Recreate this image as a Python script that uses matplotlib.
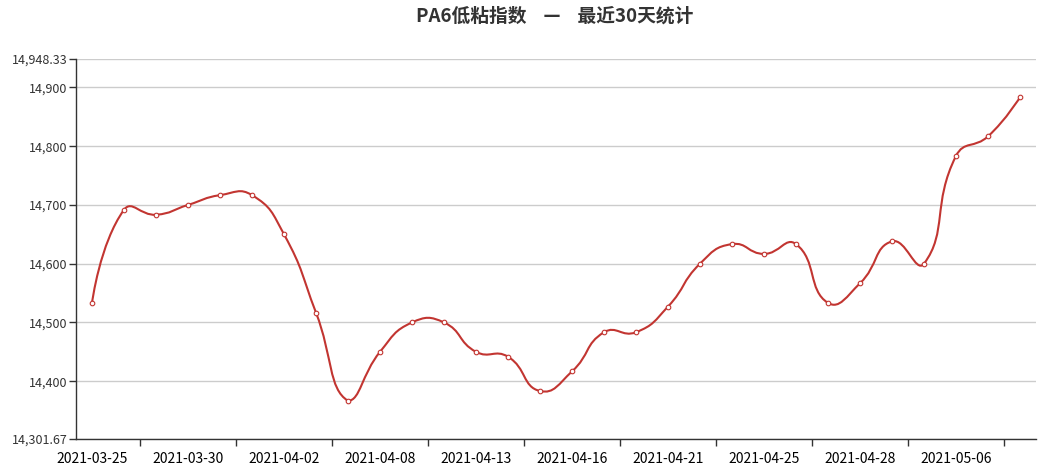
import numpy as np
import matplotlib
matplotlib.use("Agg")
import matplotlib.pyplot as plt
from matplotlib.path import Path
from matplotlib.patches import PathPatch

plt.rcParams['font.family'] = ['Noto Sans CJK SC', 'DejaVu Sans']

# 数据
dates = ["2021-03-25", "2021-03-26", "2021-03-29", "2021-03-30", "2021-03-31",
         "2021-04-01", "2021-04-02", "2021-04-06", "2021-04-07", "2021-04-08",
         "2021-04-09", "2021-04-12", "2021-04-13", "2021-04-14", "2021-04-15",
         "2021-04-16", "2021-04-19", "2021-04-20", "2021-04-21", "2021-04-22",
         "2021-04-23", "2021-04-25", "2021-04-26", "2021-04-27", "2021-04-28",
         "2021-04-29", "2021-04-30", "2021-05-06", "2021-05-07", "2021-05-08"]
values = [14533.33, 14691.67, 14683.33, 14700.00, 14716.67,
          14716.67, 14650.00, 14516.67, 14366.67, 14450.00,
          14500.00, 14500.00, 14450.00, 14441.67, 14383.33,
          14416.67, 14483.33, 14483.33, 14527.00, 14600.00,
          14633.33, 14616.67, 14633.33, 14533.33, 14566.67,
          14638.00, 14600.00, 14783.33, 14816.67, 14883.33]
title = "PA6低粘指数    —    最近30天统计"
line_color = "#c23531"


####################################
# echarts4風のなめらかな曲線 (表示座標で計算)
####################################
def smooth_path(pts, smooth=0.5):
    lo = pts.min(axis=0)
    hi = pts.max(axis=0)
    verts = [pts[0]]
    codes = [Path.MOVETO]
    cp0 = pts[0].copy()
    n = len(pts)
    for i in range(1, n):
        p = pts[i]
        prev = pts[i - 1]
        if i == n - 1:
            cp1 = p.copy()
            ratio = 0.5
            v = np.zeros(2)
        else:
            nxt = pts[i + 1]
            v = nxt - prev
            lp = np.hypot(*(p - prev))
            ln = np.hypot(*(nxt - p))
            ratio = ln / (ln + lp)
            cp1 = p - v * smooth * (1 - ratio)
        verts += [np.clip(cp0, lo, hi), np.clip(cp1, lo, hi), p]
        codes += [Path.CURVE4] * 3
        cp0 = p + v * smooth * ratio
    return np.array(verts), codes


fig = plt.figure(figsize=(10.42, 4.65), dpi=100)
ax = fig.add_axes([76 / 1042, 26 / 465, 960 / 1042, 380 / 465])

x = np.arange(len(values))
ymin = min(values) - 65
ymax = max(values) + 65
ax.set_xlim(-0.5, len(values) - 0.5)
ax.set_ylim(ymin, ymax)

disp = ax.transData.transform(np.column_stack([x, values]))
verts, codes = smooth_path(disp)
verts = ax.transData.inverted().transform(verts)
ax.add_patch(PathPatch(Path(verts, codes), fill=False, ec=line_color, lw=1.5, zorder=2))
ax.plot(x, values, 'o', ms=3.3, mfc='white', mec=line_color, mew=0.8, zorder=3)

# y軸
yt = [ymin, 14400, 14500, 14600, 14700, 14800, 14900, ymax]
ylab = ["{:,.2f}".format(ymin)] + ["{:,.0f}".format(v) for v in yt[1:-1]] + ["{:,.2f}".format(ymax)]
ax.set_yticks(yt, labels=ylab)
ax.yaxis.grid(True, color='#cccccc', lw=1)
ax.set_axisbelow(True)

# x軸
ax.set_xticks(np.arange(1.5, len(values) - 1, 3))
ax.set_xticklabels([])
ax.set_xticks(x[::3], labels=dates[::3], minor=True)
ax.tick_params(axis='x', which='minor', length=0, pad=9)
ax.tick_params(axis='x', which='major', length=5, width=1, color='#333333')
ax.tick_params(axis='y', length=5, width=1, color='#333333', pad=1)
ax.tick_params(labelsize=9, labelcolor='#333333')

for s in ['top', 'right']:
    ax.spines[s].set_visible(False)
for s in ['left', 'bottom']:
    ax.spines[s].set_color('#333333')
    ax.spines[s].set_linewidth(1)

fig.text(555 / 1042, 1 - 16 / 465, title, ha='center', va='center',
         fontsize=13.5, fontweight='bold', color='#333333')

plt.savefig("out.png", dpi=100)
